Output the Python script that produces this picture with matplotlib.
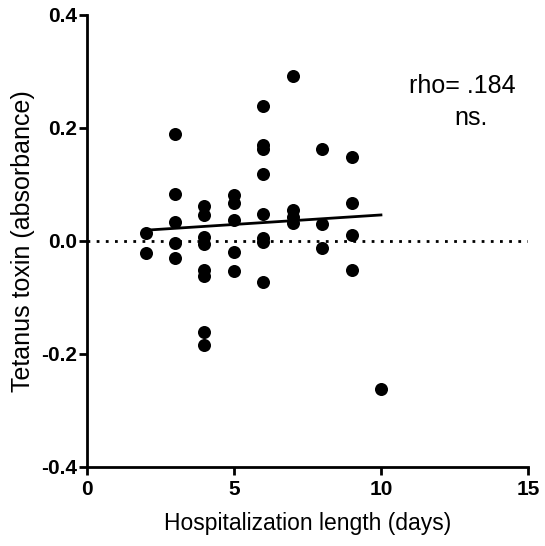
import matplotlib
matplotlib.use("Agg")
import matplotlib.pyplot as plt

plt.rcParams['font.family'] = ['Liberation Sans', 'DejaVu Sans']

days = [2, 2,
        3, 3, 3, 3, 3,
        4, 4, 4, 4, 4, 4, 4, 4,
        5, 5, 5, 5, 5,
        6, 6, 6, 6, 6, 6, 6, 6,
        7, 7, 7, 7,
        8, 8, 8,
        9, 9, 9, 9,
        10]
toxin = [0.014, -0.021,
         0.189, 0.083, 0.033, -0.004, -0.030,
         0.062, 0.046, 0.007, -0.006, -0.052, -0.062, -0.161, -0.185,
         0.081, 0.067, 0.037, -0.019, -0.054,
         0.239, 0.169, 0.163, 0.119, 0.047, 0.006, -0.001, -0.072,
         0.292, 0.055, 0.042, 0.031,
         0.163, 0.030, -0.012,
         0.149, 0.067, 0.011, -0.051,
         -0.262]

fit_x = [2, 10]
fit_y = [0.019, 0.046]

x_ticks = [0, 5, 10, 15]
y_ticks = [-0.4, -0.2, 0.0, 0.2, 0.4]
y_ticklabels = ["-0.4", "-0.2", "0.0", "0.2", "0.4"]

fig = plt.figure(figsize=(5.45, 5.46), dpi=100)
ax = fig.add_axes([0.159, 0.1447, 0.81, 0.828])

ax.axhline(0, color='black', linestyle=(0, (1, 2.3)), linewidth=2, zorder=1)
ax.scatter(days, toxin, s=88, color='black', zorder=3, linewidths=0)
ax.plot(fit_x, fit_y, color='black', linewidth=2, zorder=2)

ax.set_xlim(0, 15)
ax.set_ylim(-0.4, 0.4)
ax.set_xticks(x_ticks)
ax.set_yticks(y_ticks)
ax.set_yticklabels(y_ticklabels)
for lab in ax.get_xticklabels() + ax.get_yticklabels():
    lab.set_fontweight('bold')
    lab.set_fontsize(15)

ax.spines['top'].set_visible(False)
ax.spines['right'].set_visible(False)
for s in ['left', 'bottom']:
    ax.spines[s].set_linewidth(2)
ax.tick_params(direction='out', length=5.5, width=2)
ax.tick_params(axis='x', pad=4)
ax.tick_params(axis='y', pad=1.5)

ax.set_xlabel("Hospitalization length (days)", fontsize=16.5, labelpad=9)
ax.set_ylabel("Tetanus toxin (absorbance)", fontsize=18, labelpad=4)

ax.text(12.77, 0.261, "rho= .184", fontsize=18, ha='center', va='baseline')
ax.text(13.06, 0.205, "ns.", fontsize=18, ha='center', va='baseline')

fig.savefig("out.png", dpi=100)
